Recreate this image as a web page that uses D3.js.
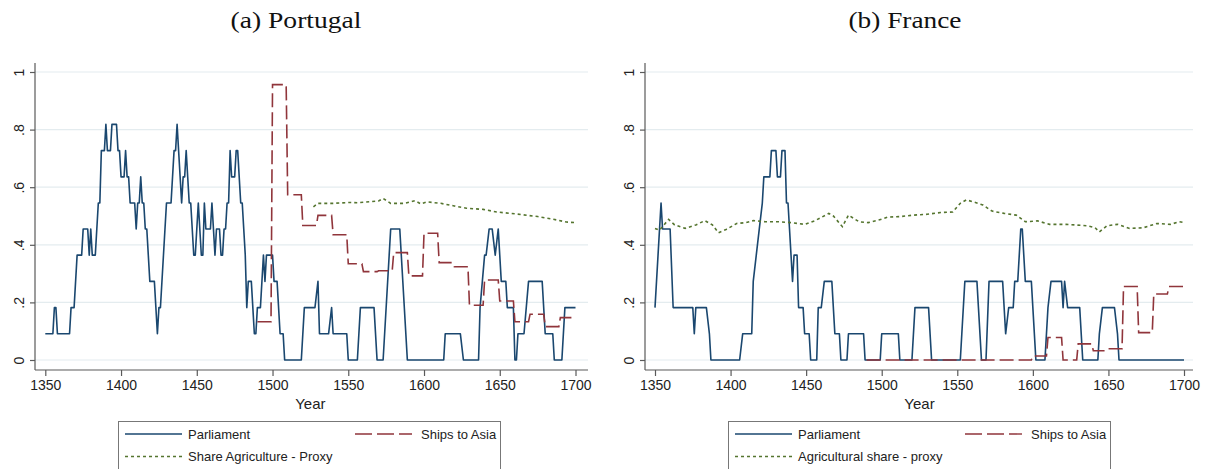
<!DOCTYPE html>
<html><head><meta charset="UTF-8">
<script src="https://cdn.jsdelivr.net/npm/d3@7"></script>
<style>
  body { margin: 0; background: white; font-family: Arial, "Liberation Sans", sans-serif; }
  svg { display: block; }
</style>
</head>
<body>
<svg id="chart" width="1207" height="469"></svg>
<script>
// tick labels
var yearTicks = [1350, 1400, 1450, 1500, 1550, 1600, 1650, 1700];
var shareTicks = [0, 0.2, 0.4, 0.6, 0.8, 1];
var shareTickLabels = ["0", ".2", ".4", ".6", ".8", "1"];

// Portugal: parliament share, breakpoints [year, value]
var ptParliament = [[1350,.091],[1355,.091],[1356,.182],[1357,.182],[1358,.091],[1366,.091],[1367,.182],[1369,.182],[1371,.364],[1374,.364],
  [1375,.455],[1378,.455],[1379,.364],[1380,.455],[1381,.364],[1383,.364],[1384,.455],[1385,.545],[1386,.545],[1387,.727],[1389,.727],
  [1390,.818],[1391,.727],[1393,.727],[1394,.818],[1397,.818],[1398,.727],[1399,.727],[1400,.636],[1402,.636],[1403,.727],[1404,.636],
  [1405,.636],[1406,.545],[1409,.545],[1410,.455],[1411,.545],[1412,.545],[1413,.636],[1414,.545],[1415,.545],[1416,.455],[1417,.455],
  [1419,.273],[1422,.273],[1424,.091],[1425,.182],[1426,.182],[1429,.455],[1430,.545],[1433,.545],[1435,.727],[1436,.727],[1437,.818],
  [1438,.727],[1440,.545],[1441,.636],[1442,.636],[1443,.727],[1444,.636],[1445,.545],[1446,.545],[1448,.364],[1449,.364],[1451,.545],
  [1453,.364],[1454,.364],[1455,.545],[1456,.455],[1459,.455],[1460,.545],[1462,.364],[1463,.455],[1465,.455],[1466,.364],[1467,.364],
  [1468,.455],[1469,.455],[1470,.545],[1471,.545],[1472,.727],[1473,.636],[1475,.636],[1476,.727],[1477,.727],[1478,.636],[1479,.545],
  [1480,.545],[1481,.455],[1482,.364],[1483,.182],[1484,.273],[1486,.273],[1487,.182],[1488,.091],[1489,.091],[1490,.182],[1492,.182],
  [1494,.364],[1495,.273],[1496,.364],[1500,.364],[1501,.273],[1503,.273],[1505,.091],[1507,.091],[1508,0],[1519,0],[1521,.182],
  [1528,.182],[1530,.273],[1531,.091],[1537,.091],[1539,.182],[1540,.091],[1549,.091],[1550,0],[1556,0],[1558,.182],[1567,.182],
  [1569,0],[1573,0],[1578,.455],[1584,.455],[1589,0],[1613,0],[1614,.091],[1624,.091],[1626,0],[1636,0],[1637,.182],[1640,.364],
  [1641,.364],[1643,.455],[1645,.455],[1647,.364],[1649,.455],[1651,.273],[1654,.273],[1655,.182],[1659,.182],[1660,0],[1661,0],
  [1662,.091],[1666,.091],[1669,.273],[1678,.273],[1680,.091],[1685,.091],[1686,0],[1691,0],[1693,.182],[1700,.182]];

// Portugal: ships to Asia, one value per decade
var ptShipDecades = [1490,1500,1510,1520,1530,1540,1550,1560,1570,1580,1590,1600,1610,1620,1630,1640,1650,1660,1670,1680,1690];
var ptShips = [0.133,0.956,0.574,0.467,0.502,0.435,0.334,0.307,0.31,0.373,0.292,0.44,0.338,0.324,0.19,0.278,0.205,0.133,0.159,0.116,0.147];

// Portugal: share agriculture proxy [year, value]
var ptAgri = [[1527,.532],[1530,.544],[1540,.544],[1551,.547],[1556,.546],[1565,.55],[1570,.552],[1573,.561],[1578,.544],[1587,.544],
  [1594,.553],[1598,.542],[1602,.549],[1611,.544],[1620,.535],[1628,.527],[1639,.523],[1648,.514],[1661,.507],[1675,.498],
  [1688,.486],[1694,.479],[1700,.477]];

// France: parliament share [year, value]
var frParliament = [[1350,.182],[1354,.545],[1355,.455],[1360,.455],[1362,.182],[1375,.182],[1376,.091],[1377,.182],[1384,.182],
  [1386,.091],[1387,0],[1406,0],[1408,.091],[1414,.091],[1415,.273],[1417,.364],[1419,.455],[1421,.545],[1422,.636],[1426,.636],
  [1427,.727],[1430,.727],[1431,.636],[1433,.636],[1434,.727],[1436,.727],[1437,.545],[1438,.545],[1439,.455],[1440,.364],[1441,.273],
  [1442,.364],[1444,.364],[1445,.182],[1448,.182],[1449,.091],[1452,.091],[1453,0],[1457,0],[1458,.182],[1460,.182],[1462,.273],
  [1467,.273],[1469,.091],[1472,.091],[1473,0],[1477,0],[1478,.091],[1488,.091],[1489,0],[1499,0],[1500,.091],[1511,.091],[1512,0],
  [1520,0],[1522,.182],[1531,.182],[1533,0],[1552,0],[1553,.091],[1555,.273],[1563,.273],[1564,.182],[1566,0],[1569,0],[1571,.273],
  [1580,.273],[1582,.091],[1584,.182],[1587,.182],[1588,.273],[1590,.273],[1592,.455],[1593,.455],[1595,.273],[1599,.273],[1600,.182],
  [1602,0],[1608,0],[1610,.182],[1612,.273],[1619,.273],[1620,.182],[1621,.273],[1623,.182],[1631,.182],[1633,0],[1643,0],[1644,.091],
  [1646,.182],[1654,.182],[1656,.091],[1657,0],[1700,0]];

// France: ships to Asia, one value per decade
var frShipDecades = [1490,1500,1510,1520,1530,1540,1550,1560,1570,1580,1590,1600,1610,1620,1630,1640,1650,1660,1670,1680,1690];
var frShips = [0,0,0,0,0,0,0,0,0,0,0,0.014,0.078,0,0.056,0.032,0.039,0.255,0.095,0.229,0.255];

// France: agricultural share proxy [year, value]
var frAgri = [[1350,.457],[1353,.451],[1359,.488],[1363,.469],[1370,.457],[1377,.469],[1383,.484],[1388,.469],[1392,.442],[1397,.453],
  [1404,.474],[1410,.477],[1415,.484],[1423,.48],[1432,.48],[1440,.477],[1449,.471],[1456,.484],[1465,.509],[1468,.5],[1474,.463],
  [1478,.503],[1485,.48],[1491,.477],[1498,.486],[1504,.496],[1512,.498],[1521,.503],[1530,.506],[1539,.512],[1547,.514],[1552,.544],
  [1556,.556],[1562,.547],[1567,.538],[1573,.517],[1581,.509],[1589,.503],[1595,.48],[1603,.483],[1611,.471],[1622,.471],[1636,.466],
  [1641,.46],[1644,.445],[1649,.466],[1656,.471],[1664,.457],[1673,.459],[1682,.474],[1691,.471],[1697,.48],[1700,.477]];

var navy = "#1a476f", maroon = "#90353b", green = "#55752f";
var svg = d3.select("#chart");

// turn decade values into a held step series
function decadeSteps(decades, values) {
  var pts = [];
  decades.forEach(function (d, i) {
    var last = i == decades.length - 1;
    pts.push([d, values[i]]);
    pts.push([last ? d + 10 : d + 9, values[i]]);
  });
  return pts;
}

function drawPanel(opt) {
  var g = svg.append("g");
  var x = d3.scaleLinear().domain([1350, 1700]).range([opt.x0, opt.x1]);
  var y = d3.scaleLinear().domain([0, 1]).range([360, 72]);

  // grid
  g.selectAll(".grid").data(shareTicks).enter().append("line")
    .attr("x1", opt.left).attr("x2", opt.right)
    .attr("y1", function (d) { return y(d); }).attr("y2", function (d) { return y(d); })
    .attr("stroke", "#e4ecef").attr("stroke-width", 1.2);

  // axes
  var yAxis = d3.axisLeft(y).tickValues(shareTicks)
    .tickFormat(function (d, i) { return shareTickLabels[i]; }).tickSize(5);
  var yg = g.append("g").attr("transform", "translate(" + opt.left + ",0)").call(yAxis);
  yg.select(".domain").attr("d", "M0,63V370");
  yg.selectAll(".tick text").attr("x", 0).attr("y", 0).attr("dy", "0.35em")
    .attr("text-anchor", "middle").attr("transform", "translate(-16,0) rotate(-90)");

  var xAxis = d3.axisBottom(x).tickValues(yearTicks).tickFormat(d3.format("d")).tickSize(6).tickPadding(4);
  var xg = g.append("g").attr("transform", "translate(0,370)").call(xAxis);
  xg.select(".domain").attr("d", "M" + opt.left + ",0H" + opt.right);

  [yg, xg].forEach(function (a) {
    a.selectAll(".domain, line").attr("stroke", "#5a5a5a").attr("stroke-width", 1.2);
    a.selectAll("text").attr("fill", "#222").style("font-size", "14px")
      .style("font-family", "Arial, 'Liberation Sans', sans-serif");
  });

  g.append("text").attr("x", (opt.x0 + opt.x1) / 2).attr("y", 409)
    .attr("text-anchor", "middle").attr("fill", "#222").style("font-size", "15px").text("Year");

  g.append("text").attr("x", opt.titleX).attr("y", 28).attr("text-anchor", "middle")
    .attr("fill", "#111").style("font-family", "'Liberation Serif', 'DejaVu Serif', serif")
    .style("font-size", "23px").attr("textLength", opt.titleW).attr("lengthAdjust", "spacingAndGlyphs")
    .text(opt.title);

  // series, in the original drawing order
  var line = d3.line().x(function (d) { return x(d[0]); }).y(function (d) { return y(d[1]); });
  g.append("path").datum(opt.parliament).attr("d", line).attr("fill", "none")
    .attr("stroke", navy).attr("stroke-width", 1.6).attr("stroke-linejoin", "round");
  g.append("path").datum(decadeSteps(opt.shipDecades, opt.ships)).attr("d", line).attr("fill", "none")
    .attr("stroke", maroon).attr("stroke-width", 1.6).attr("stroke-dasharray", "14,5");
  g.append("path").datum(opt.agri).attr("d", line).attr("fill", "none")
    .attr("stroke", green).attr("stroke-width", 1.6).attr("stroke-dasharray", "3,3");

  // legend
  var lg = g.append("g").attr("transform", "translate(" + opt.legendX + ",421)");
  lg.append("rect").attr("x", 0.5).attr("y", 0.5).attr("width", 382).attr("height", 70)
    .attr("fill", "white").attr("stroke", "#777").attr("stroke-width", 1);
  var items = [
    { label: "Parliament", color: navy, dash: null, lx: 7, ly: 13 },
    { label: "Ships to Asia", color: maroon, dash: "17,5", lx: 237, ly: 13 },
    { label: opt.agriLabel, color: green, dash: "3,3", lx: 7, ly: 35.5 }
  ];
  items.forEach(function (it) {
    lg.append("line").attr("x1", it.lx).attr("x2", it.lx + 57).attr("y1", it.ly).attr("y2", it.ly)
      .attr("stroke", it.color).attr("stroke-width", 1.4).attr("stroke-dasharray", it.dash);
    lg.append("text").attr("x", it.lx + (it.dash == "17,5" ? 66 : 63)).attr("y", it.ly).attr("dy", "0.35em")
      .attr("fill", "#222").style("font-size", "13px").text(it.label);
  });
}

drawPanel({ title: "(a) Portugal", titleX: 296, titleW: 131, left: 35, right: 588, x0: 45.3, x1: 575.5, legendX: 118,
  parliament: ptParliament, shipDecades: ptShipDecades, ships: ptShips, agri: ptAgri,
  agriLabel: "Share Agriculture - Proxy" });
drawPanel({ title: "(b) France", titleX: 905, titleW: 113, left: 645, right: 1193, x0: 655, x1: 1184, legendX: 728,
  parliament: frParliament, shipDecades: frShipDecades, ships: frShips, agri: frAgri,
  agriLabel: "Agricultural share - proxy" });
</script>
</body></html>
